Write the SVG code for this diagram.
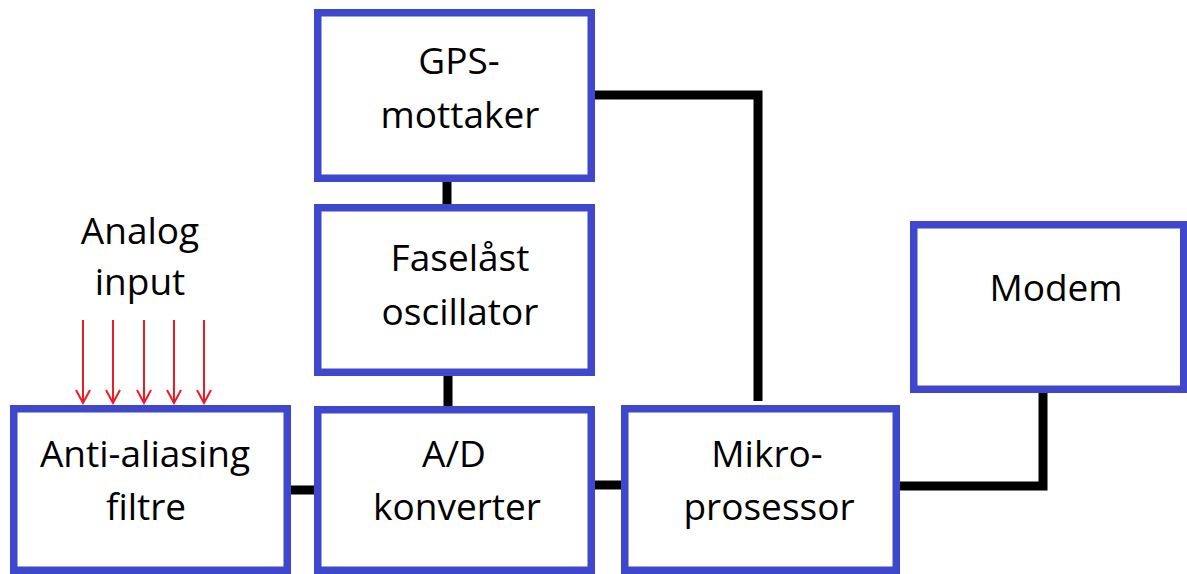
<svg xmlns="http://www.w3.org/2000/svg" width="1187" height="574" viewBox="0 0 1187 574">
  <style>
    .box { fill: #ffffff; stroke: #3F48CC; stroke-width: 7.5; }
    .lbl { font-family: "Open Sans", "Liberation Sans", sans-serif; font-size: 37px; fill: #000000; text-anchor: middle; }
    .wire { fill: none; stroke: #000000; stroke-width: 9; stroke-linejoin: miter; stroke-linecap: butt; }
    .sig { fill: none; stroke: #ED1C24; stroke-width: 2; }
  </style>
  <defs>
    <!-- open V arrowhead, drawn pointing along +x so orient="auto" turns it with the line -->
    <marker id="openArrow" viewBox="0 0 16 16" refX="14" refY="8" markerWidth="16" markerHeight="16" markerUnits="userSpaceOnUse" orient="auto">
      <path d="M1 1 L14 8 L1 15" fill="none" stroke="#ED1C24" stroke-width="2"/>
    </marker>
  </defs>
  <rect width="1187" height="574" fill="#ffffff"/>

  <!-- wiring between blocks -->
  <g id="connectors">
    <path class="wire" d="M447 182 V204"/>
    <path class="wire" d="M448 376 V406"/>
    <path class="wire" d="M291 490 H314"/>
    <path class="wire" d="M595 485 H621"/>
    <path class="wire" d="M595 95 H758 V401"/>
    <path class="wire" d="M900 486 H1043 V393"/>
  </g>

  <!-- analog input lines -->
  <g id="analog-input">
    <text class="lbl" x="140" y="244">Analog</text>
    <text class="lbl" x="140" y="295">input</text>
    <g class="sig">
      <path d="M83 320 V403" marker-end="url(#openArrow)"/>
      <path d="M113 320 V403" marker-end="url(#openArrow)"/>
      <path d="M144 320 V403" marker-end="url(#openArrow)"/>
      <path d="M174 320 V403" marker-end="url(#openArrow)"/>
      <path d="M204 320 V403" marker-end="url(#openArrow)"/>
    </g>
  </g>

  <g id="gps">
    <rect class="box" x="317.75" y="12.75" width="273.5" height="165.5"/>
    <text class="lbl" x="459" y="74">GPS-</text>
    <text class="lbl" x="460" y="128">mottaker</text>
  </g>

  <g id="pll">
    <rect class="box" x="317.75" y="207.75" width="273.5" height="164.5"/>
    <text class="lbl" x="460" y="271">Faselåst</text>
    <text class="lbl" x="460" y="325">oscillator</text>
  </g>

  <g id="anti-aliasing">
    <rect class="box" x="13.75" y="408.75" width="273.5" height="161.5"/>
    <text class="lbl" x="145" y="467">Anti-aliasing</text>
    <text class="lbl" x="146" y="520">filtre</text>
  </g>

  <g id="adc">
    <rect class="box" x="317.75" y="409.75" width="273.5" height="160.5"/>
    <text class="lbl" x="454" y="467">A/D</text>
    <text class="lbl" x="457" y="520">konverter</text>
  </g>

  <g id="mcu">
    <rect class="box" x="624.75" y="408.75" width="271.5" height="161.5"/>
    <text class="lbl" x="767" y="467">Mikro-</text>
    <text class="lbl" x="769" y="520">prosessor</text>
  </g>

  <g id="modem">
    <rect class="box" x="913.75" y="224.75" width="270" height="164.5"/>
    <text class="lbl" x="1056" y="301">Modem</text>
  </g>
</svg>
